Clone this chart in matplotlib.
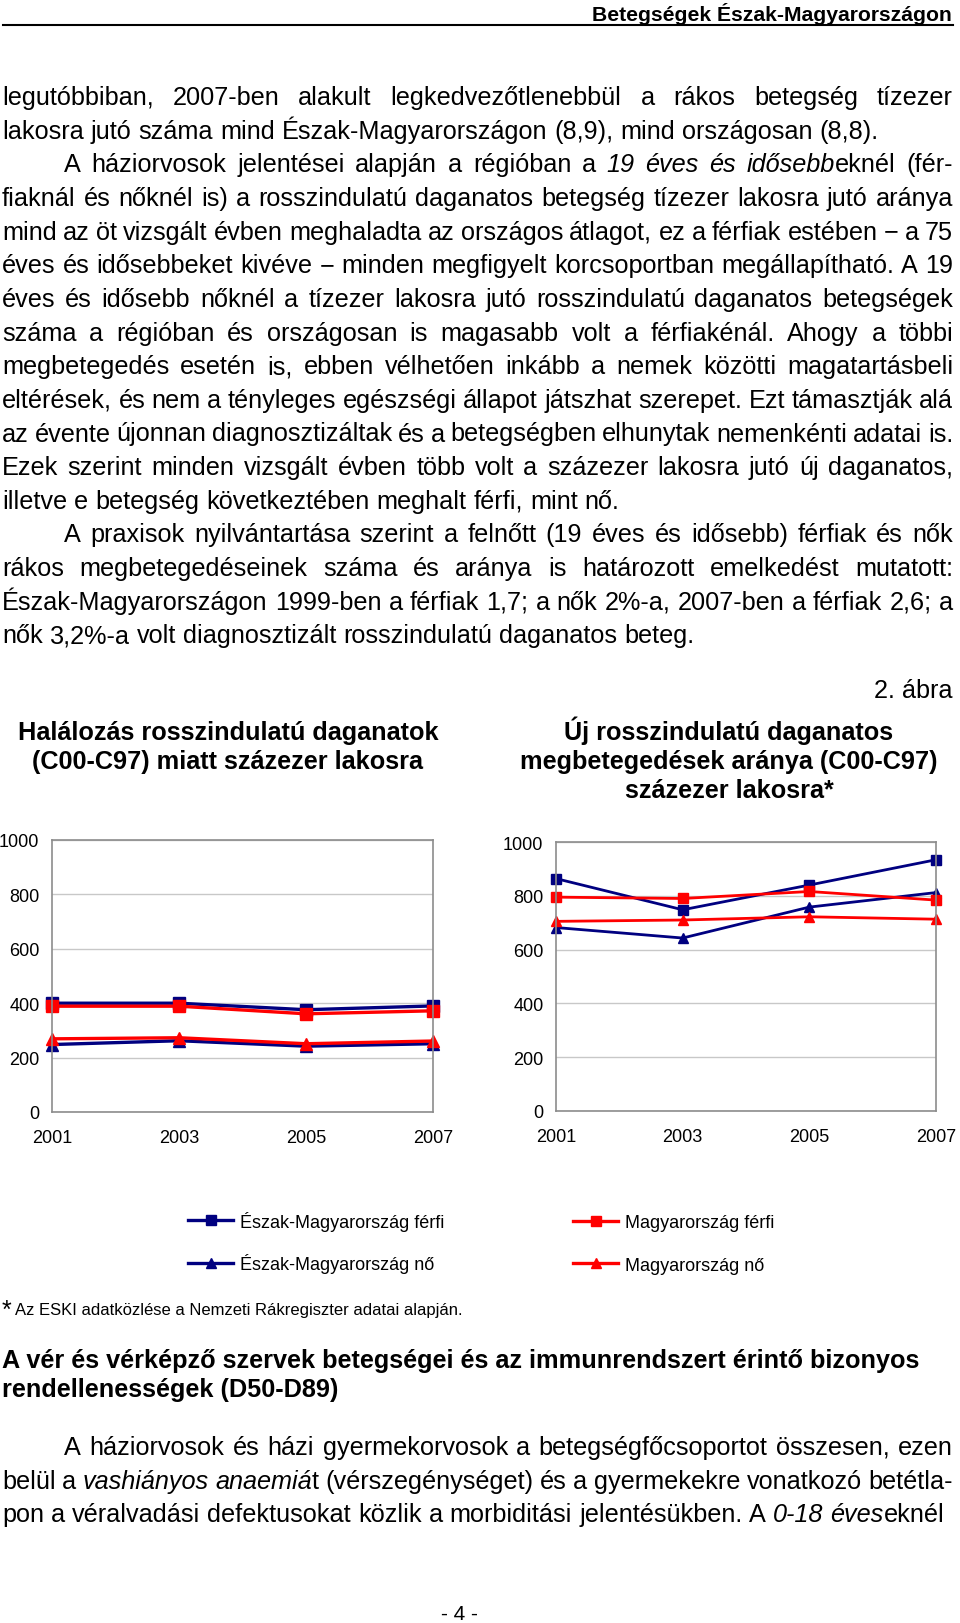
import matplotlib
matplotlib.use("Agg")
import matplotlib.pyplot as plt

plt.rcParams['font.family'] = ['Liberation Sans', 'DejaVu Sans']

# chart data
years = [2001, 2003, 2005, 2007]
series_labels = ["Észak-Magyarország férfi", "Észak-Magyarország nő",
                 "Magyarország férfi", "Magyarország nő"]
# Halálozás rosszindulatú daganatok miatt, százezer lakosra
death_em_ferfi = [400, 400, 376, 390]
death_em_no = [248, 262, 242, 251]
death_mo_ferfi = [389, 389, 361, 372]
death_mo_no = [269, 273, 251, 261]
# Új rosszindulatú daganatos megbetegedések aránya, százezer lakosra
new_em_ferfi = [864, 748, 840, 934]
new_em_no = [682, 643, 758, 812]
new_mo_ferfi = [795, 790, 816, 784]
new_mo_no = [705, 710, 722, 713]
y_ticks = [0, 200, 400, 600, 800, 1000]
x_ticks = [2001, 2003, 2005, 2007]

NAVY = '#000080'
RED = '#ff0000'

# page text; _ toggles italic
para1 = [
    "legutóbbiban, 2007-ben alakult legkedvezőtlenebbül a rákos betegség tízezer",
    "lakosra jutó száma mind Észak-Magyarországon (8,9), mind országosan (8,8).",
]
para2 = [
    "A háziorvosok jelentései alapján a régióban a _19 éves és idősebb_eknél (fér-",
    "fiaknál és nőknél is) a rosszindulatú daganatos betegség tízezer lakosra jutó aránya",
    "mind az öt vizsgált évben meghaladta az országos átlagot, ez a férfiak estében − a 75",
    "éves és idősebbeket kivéve − minden megfigyelt korcsoportban megállapítható. A 19",
    "éves és idősebb nőknél a tízezer lakosra jutó rosszindulatú daganatos betegségek",
    "száma a régióban és országosan is magasabb volt a férfiakénál. Ahogy a többi",
    "megbetegedés esetén is, ebben vélhetően inkább a nemek közötti magatartásbeli",
    "eltérések, és nem a tényleges egészségi állapot játszhat szerepet. Ezt támasztják alá",
    "az évente újonnan diagnosztizáltak és a betegségben elhunytak nemenkénti adatai is.",
    "Ezek szerint minden vizsgált évben több volt a százezer lakosra jutó új daganatos,",
    "illetve e betegség következtében meghalt férfi, mint nő.",
]
para3 = [
    "A praxisok nyilvántartása szerint a felnőtt (19 éves és idősebb) férfiak és nők",
    "rákos megbetegedéseinek száma és aránya is határozott emelkedést mutatott:",
    "Észak-Magyarországon 1999-ben a férfiak 1,7; a nők 2%-a, 2007-ben a férfiak 2,6; a",
    "nők 3,2%-a volt diagnosztizált rosszindulatú daganatos beteg.",
]
para4 = [
    "A háziorvosok és házi gyermekorvosok a betegségfőcsoportot összesen, ezen",
    "belül a _vashiányos anaemiá_t (vérszegénységet) és a gyermekekre vonatkozó betétla-",
    "pon a véralvadási defektusokat közlik a morbiditási jelentésükben. A _0-18 éves_eknél",
]
left_title = ["Halálozás rosszindulatú daganatok", "(C00-C97) miatt százezer lakosra"]
right_title = ["Új rosszindulatú daganatos", "megbetegedések aránya (C00-C97)",
               "százezer lakosra*"]
heading = ["A vér és vérképző szervek betegségei és az immunrendszert érintő bizonyos",
           "rendellenességek (D50-D89)"]

fig = plt.figure(figsize=(9.6, 16.24), dpi=100)
page = fig.add_axes([0, 0, 1, 1])
page.set_xlim(0, 960)
page.set_ylim(1624, 0)
page.axis('off')
renderer = fig.canvas.get_renderer()

BODY = 18.2
LEFT, RIGHT = 2, 953
INDENT = 64
LINE = 33.65


def put_line(text, x0, x1, y, size=BODY, justify=True):
    words = text.split(' ')
    italic = False
    pieces = []
    for w in words:
        wp = []
        for k, seg in enumerate(w.split('_')):
            if k > 0:
                italic = not italic
            if seg:
                t = page.text(0, y, seg, fontsize=size, va='baseline',
                              style='italic' if italic else 'normal')
                wp.append(t)
        pieces.append(wp)
    widths = [[t.get_window_extent(renderer).width for t in wp] for wp in pieces]
    total = sum(sum(ws) for ws in widths)
    if justify and len(words) > 1:
        gap = (x1 - x0 - total) / (len(words) - 1)
    else:
        a = page.text(0, 0, 'a a', fontsize=size)
        b = page.text(0, 0, 'aa', fontsize=size)
        gap = a.get_window_extent(renderer).width - b.get_window_extent(renderer).width
        a.remove()
        b.remove()
    x = x0
    for wp, ws in zip(pieces, widths):
        for t, w in zip(wp, ws):
            t.set_x(x)
            x += w
        x += gap


def put_paragraph(lines, y0, indent=True):
    for i, ln in enumerate(lines):
        x0 = INDENT if (indent and i == 0) else LEFT
        put_line(ln, x0, RIGHT, y0 + i * LINE, justify=(i < len(lines) - 1))


# running header
page.text(952, 21, "Betegségek Észak-Magyarországon", fontsize=15.2,
          fontweight='bold', ha='right', va='baseline')
page.plot([3, 953], [26, 26], color='black', lw=1.5)

TOP = 105
put_paragraph(para1, TOP, indent=False)
put_paragraph(para2, TOP + 2 * LINE)
put_paragraph(para3, TOP + 13 * LINE)

page.text(953, 698, "2. ábra", fontsize=BODY, ha='right', va='baseline')
for i, ln in enumerate(left_title):
    page.text(228, 740 + i * 29, ln, fontsize=BODY, fontweight='bold',
              ha='center', va='baseline')
for i, ln in enumerate(right_title):
    page.text(729, 740 + i * 29, ln, fontsize=BODY, fontweight='bold',
              ha='center', va='baseline')

page.text(2, 1318, "*", fontsize=18, va='baseline')
page.text(15, 1315, "Az ESKI adatközlése a Nemzeti Rákregiszter adatai alapján.",
          fontsize=12, va='baseline')

for i, ln in enumerate(heading):
    page.text(2, 1368 + i * 29, ln, fontsize=BODY, fontweight='bold', va='baseline')

put_paragraph(para4, 1455)
page.text(459, 1620, "- 4 -", fontsize=15, ha='center', va='baseline')


def px_rect(x0, x1, top, bottom):
    return [x0 / 960, 1 - bottom / 1624, (x1 - x0) / 960, (bottom - top) / 1624]


def draw_chart(ax, em_f, em_n, mo_f, mo_n, ms, lw):
    h = []
    h += ax.plot(years, em_f, color=NAVY, marker='s', ms=ms, lw=lw, clip_on=False)
    h += ax.plot(years, em_n, color=NAVY, marker='^', ms=ms, lw=lw, clip_on=False)
    h += ax.plot(years, mo_f, color=RED, marker='s', ms=ms, lw=lw, clip_on=False)
    h += ax.plot(years, mo_n, color=RED, marker='^', ms=ms, lw=lw, clip_on=False)
    ax.set_xlim(2001, 2007)
    ax.set_ylim(0, 1000)
    ax.set_yticks(y_ticks)
    ax.set_xticks(x_ticks)
    ax.grid(axis='y', color='#c8c8c8', lw=1)
    ax.set_axisbelow(True)
    for s in ax.spines.values():
        s.set_color('#8c8c8c')
        s.set_linewidth(1.2)
    ax.tick_params(axis='both', length=0, labelsize=13)
    ax.tick_params(axis='y', pad=9)
    ax.tick_params(axis='x', pad=12)
    return h


ax1 = fig.add_axes(px_rect(52, 433, 841, 1113))
handles = draw_chart(ax1, death_em_ferfi, death_em_no, death_mo_ferfi, death_mo_no, 9, 2.4)
ax2 = fig.add_axes(px_rect(556, 936, 843, 1112))
draw_chart(ax2, new_em_ferfi, new_em_no, new_mo_ferfi, new_mo_no, 6.5, 2.0)

# legend: one column per region so the rows line up
leg_opts = dict(loc='center left', frameon=False, fontsize=13, handlelength=2.5,
                handletextpad=0.4, borderpad=0, borderaxespad=0, markerscale=0.8)
leg1 = fig.legend(handles[:2], series_labels[:2], labelspacing=1.27,
                  bbox_to_anchor=(188 / 960, 1 - 1243 / 1624), **leg_opts)
leg2 = fig.legend(handles[2:], series_labels[2:], labelspacing=1.4,
                  bbox_to_anchor=(573 / 960, 1 - 1245 / 1624), **leg_opts)

fig.savefig("out.png", dpi=100)
